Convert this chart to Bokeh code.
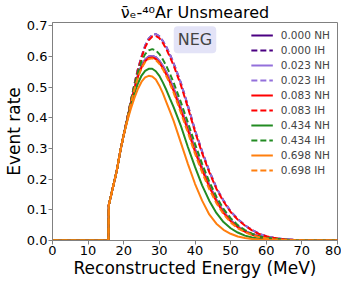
from bokeh.plotting import figure
from bokeh.models import Range1d, Legend, LegendItem, Label, FixedTicker, PrintfTickFormatter
from bokeh.embed import file_html
from bokeh.resources import INLINE

energy = [0, 15.7, 15.8, 17, 18, 19, 20, 21, 22, 23, 24, 25, 26, 27, 28, 29, 30, 31, 32, 33, 34,
          36, 38, 40, 42, 44, 46, 48, 50, 52, 54, 56, 58, 60, 62, 65, 68, 72, 76, 80]

rise = [0, 0, 0.115, 0.175, 0.225, 0.29, 0.345]

nh_000 = rise + [.398, .45, .498, .54, .57, .59, .60, .602, .598, .586, .569, .547, .523, .496,
                 .433, .368, .298, .237, .181, .133, .094, .066, .046, .031, .021, .014, .009, .006,
                 .003, .001, 0, 0, 0]
ih_000 = rise + [.40, .455, .51, .56, .60, .635, .658, .670, .673, .666, .65, .63, .605, .578,
                 .515, .44, .36, .29, .227, .172, .13, .095, .07, .05, .034, .022, .014, .009,
                 .004, .002, .001, 0, 0]
nh_023 = rise + [.398, .45, .498, .54, .57, .59, .60, .602, .598, .586, .569, .547, .523, .496,
                 .433, .368, .298, .237, .181, .133, .094, .066, .046, .031, .021, .014, .009, .006,
                 .003, .001, 0, 0, 0]
ih_023 = rise + [.40, .455, .51, .56, .60, .635, .658, .670, .673, .666, .65, .63, .605, .578,
                 .515, .44, .36, .29, .227, .172, .13, .095, .07, .05, .034, .022, .014, .009,
                 .004, .002, .001, 0, 0]
nh_083 = rise + [.395, .448, .495, .535, .565, .585, .595, .597, .592, .58, .562, .54, .515, .488,
                 .425, .36, .29, .23, .175, .128, .09, .063, .043, .029, .019, .012, .008, .005,
                 .002, .001, 0, 0, 0]
ih_083 = rise + [.40, .455, .508, .557, .597, .63, .653, .665, .667, .66, .644, .623, .598, .571,
                 .508, .434, .355, .285, .223, .169, .127, .093, .068, .049, .033, .021, .014, .009,
                 .004, .002, .001, 0, 0]
nh_434 = rise + [.392, .44, .48, .513, .538, .553, .56, .56, .552, .537, .515, .49, .462, .435,
                 .375, .305, .24, .18, .13, .09, .06, .04, .026, .016, .01, .006, .004, .002,
                 .001, 0, 0, 0, 0]
ih_434 = rise + [.398, .455, .505, .55, .585, .608, .62, .624, .62, .608, .59, .568, .543, .515,
                 .452, .385, .315, .25, .192, .143, .103, .073, .05, .034, .022, .014, .009, .006,
                 .003, .001, 0, 0, 0]
nh_698 = rise + [.39, .43, .465, .495, .518, .532, .537, .535, .525, .505, .48, .45, .42, .39,
                 .32, .25, .185, .13, .085, .055, .035, .022, .013, .008, .005, .003, .002, .001,
                 0, 0, 0, 0, 0]
ih_698 = rise + [.395, .447, .493, .532, .562, .582, .592, .594, .589, .576, .558, .535, .51, .482,
                 .418, .352, .283, .222, .168, .122, .086, .059, .04, .027, .018, .011, .007, .004,
                 .002, .001, 0, 0, 0]

labels = ["0.000 NH", "0.000 IH", "0.023 NH", "0.023 IH", "0.083 NH", "0.083 IH",
          "0.434 NH", "0.434 IH", "0.698 NH", "0.698 IH"]
series = [nh_000, ih_000, nh_023, ih_023, nh_083, ih_083, nh_434, ih_434, nh_698, ih_698]
colors = ["#4b0082", "#4b0082", "#9370db", "#9370db", "#ff0000", "#ff0000",
          "#228b22", "#228b22", "#ff7f0e", "#ff7f0e"]

x_ticks = [0, 10, 20, 30, 40, 50, 60, 70, 80]
y_ticks = [0.0, 0.1, 0.2, 0.3, 0.4, 0.5, 0.6, 0.7]

FONT = "DejaVu Sans"

p = figure(width=341, height=280, output_backend="svg", toolbar_location=None,
           x_range=Range1d(0, 80), y_range=Range1d(0, 0.711),
           min_border_left=0, min_border_right=4, min_border_top=0, min_border_bottom=0,
           title="\u03bd\u0304\u2091-\u2074\u2070Ar Unsmeared")

p.title.align = "center"
p.title.text_font = FONT
p.title.text_font_size = "16px"
p.title.text_font_style = "normal"
p.title.text_color = "black"
p.title.standoff = 1

p.xgrid.visible = False
p.ygrid.visible = False
p.outline_line_color = "#808080"
p.outline_line_width = 1

for ax in (p.xaxis[0], p.yaxis[0]):
    ax.axis_line_color = "#808080"
    ax.major_tick_line_color = "#808080"
    ax.minor_tick_line_color = None
    ax.major_tick_in = 0
    ax.major_tick_out = 4
    ax.major_label_text_font = FONT
    ax.major_label_text_font_size = "13px"
    ax.major_label_text_color = "black"
    ax.axis_label_text_font = FONT
    ax.axis_label_text_font_size = "17px"
    ax.axis_label_text_font_style = "normal"
    ax.axis_label_text_color = "black"
    ax.major_label_standoff = 1
    ax.axis_label_standoff = 0

p.xaxis.ticker = FixedTicker(ticks=x_ticks)
p.yaxis.ticker = FixedTicker(ticks=y_ticks)
p.yaxis.formatter = PrintfTickFormatter(format="%.1f")
p.xaxis.axis_label = "Reconstructed Energy (MeV)"
p.yaxis.axis_label = "Event rate"

items = []
for i, (lab, ys, c) in enumerate(zip(labels, series, colors)):
    dash = "solid" if i % 2 == 0 else "6 3"
    r = p.line(energy, ys, line_color=c, line_width=2, line_dash=dash)
    items.append(LegendItem(label=lab, renderers=[r]))

legend = Legend(items=items, location="top_right")
legend.label_text_font = FONT
legend.label_text_font_size = "10.5px"
legend.glyph_width = 22
legend.glyph_height = 12
legend.label_height = 12
legend.spacing = 3
legend.label_standoff = 8
legend.padding = 2
legend.margin = 5
legend.border_line_alpha = 0
legend.background_fill_alpha = 0
p.add_layout(legend)

neg = Label(x=40, y=0.655, text="NEG", text_align="center", text_baseline="middle",
            text_font=FONT, text_font_size="16px",
            background_fill_color="#e3e3f7", background_fill_alpha=1,
            padding=4, border_radius=4)
p.add_layout(neg)

open("out.html", "w").write(file_html(p, INLINE))
